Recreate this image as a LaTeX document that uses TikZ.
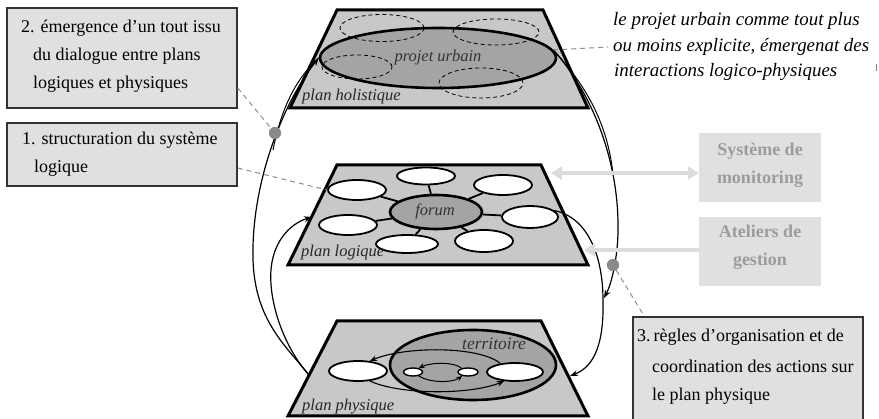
\documentclass[tikz,border=0pt]{standalone}
\usepackage{fontspec}
\setmainfont{Liberation Serif}
\usetikzlibrary{arrows.meta,shapes.geometric}

\definecolor{planefill}{HTML}{C8C8C8}
\definecolor{zonefill}{HTML}{A4A4A4}
\definecolor{boxfill}{HTML}{E0E0E0}
\definecolor{ghost}{HTML}{9C9C9C}
\definecolor{linkgray}{HTML}{DCDCDC}
\definecolor{dotgray}{HTML}{8A8A8A}
\definecolor{dashgray}{HTML}{8C8C8C}

\tikzset{
  plane/.style={fill=planefill, draw=black, line width=3pt, line join=miter},
  zone/.style={ellipse, fill=zonefill, draw=black, line width=2.6pt, inner sep=0pt},
  cell/.style={ellipse, fill=white, draw=black, line width=1.8pt, inner sep=0pt},
  dot cell/.style={ellipse, fill=white, draw=black, line width=1.4pt, inner sep=0pt},
  ghostzone/.style={ellipse, draw=black, line width=0.8pt, inner sep=0pt, dash pattern=on 4pt off 3pt},
  spoke/.style={line width=1.8pt},
  flow/.style={line width=1.2pt, -{Stealth[length=8pt,width=6pt]}},
  thinflow/.style={line width=1pt},
  inner/.style={line width=1.1pt, -{Stealth[length=7pt,width=5.5pt]}},
  small inner/.style={line width=1pt, -{Stealth[length=6pt,width=5pt]}},
  infobox/.style={rectangle, fill=boxfill, draw=black!80, line width=1.4pt, inner sep=0pt},
  toolbox/.style={rectangle, fill=boxfill, inner sep=0pt},
  boxtext/.style={anchor=base west, inner sep=0pt, font=\fontsize{18}{20}\selectfont},
  tooltext/.style={anchor=base, inner sep=0pt, text=ghost, font=\fontsize{18}{20}\selectfont\bfseries},
  planelabel/.style={anchor=base west, inner sep=0pt, text=black!85, font=\fontsize{16.5}{18}\selectfont\itshape},
  zonelabel/.style={anchor=base, inner sep=0pt, text=black!80, font=\fontsize{16.5}{18}\selectfont\itshape},
  note/.style={anchor=base west, inner sep=0pt, font=\fontsize{18.9}{20}\selectfont\itshape},
  leader/.style={draw=dashgray, line width=1pt, dash pattern=on 5pt off 4pt},
  hinge/.style={circle, fill=dotgray, inner sep=0pt, minimum size=12pt},
  toollink/.style={draw=linkgray, line width=4pt},
  tooltip/.tip={Triangle[length=11pt,width=13pt]},
}

\begin{document}
\begin{tikzpicture}[x=1pt,y=-1pt]
\useasboundingbox (0,0) rectangle (879,419);
\clip (0,0) rectangle (879,419);

% ---------- holistic plane ----------
\draw[plane] (337,10) -- (543,10) -- (588,108) -- (290,108) -- cycle;
\node[zone, minimum width=236pt, minimum height=60pt] (urb) at (438,58) {};
\node[ghostzone, minimum width=84pt, minimum height=27pt] (g1) at (382,28) {};
\node[ghostzone, minimum width=86pt, minimum height=26pt] (g2) at (496,32) {};
\node[ghostzone, minimum width=70pt, minimum height=24pt] (g3) at (357,67) {};
\node[ghostzone, minimum width=84pt, minimum height=30pt] (g4) at (481,83) {};

% ---------- logical plane ----------
\draw[plane] (337,165) -- (541,165) -- (588,265) -- (288,265) -- cycle;
\node[zone, minimum width=92pt, minimum height=34pt] (forum) at (436,212) {};
\node[cell, minimum width=58pt, minimum height=17pt] (c1) at (426,176) {};
\node[cell, minimum width=58pt, minimum height=20pt] (c2) at (503,185) {};
\node[cell, minimum width=58pt, minimum height=20pt] (c3) at (357,190) {};
\node[cell, minimum width=56pt, minimum height=22pt] (c4) at (530,217) {};
\node[cell, minimum width=58pt, minimum height=20pt] (c5) at (348,225) {};
\node[cell, minimum width=62pt, minimum height=18pt] (c6) at (407,244) {};
\node[cell, minimum width=58pt, minimum height=22pt] (c7) at (484,241) {};
\foreach \c in {c1,c2,c3,c4,c5,c6,c7}
  \draw[spoke] (forum) -- (\c);

% ---------- physical plane ----------
\draw[plane] (337,321) -- (541,321) -- (588,416) -- (288,416) -- cycle;
\node[zone, minimum width=166pt, minimum height=70pt] (terr) at (473,365) {};
\node[cell, minimum width=58pt, minimum height=20pt] (pL) at (358,371) {};
\node[cell, minimum width=56pt, minimum height=18pt] (pR) at (515,372) {};
\node[dot cell, minimum width=19pt, minimum height=8pt] (sL) at (413,372) {};
\node[dot cell, minimum width=20pt, minimum height=8pt] (sR) at (468,372) {};
\draw[inner] (pR.150) .. controls (480,346) and (405,346) .. (pL.40);
\draw[inner] (pL.-40) .. controls (400,395) and (470,395) .. (pR.-140);
\draw[small inner] (sR.150) .. controls (455,362) and (432,362) .. (sL.35);
\draw[small inner] (sL.-35) .. controls (430,383) and (452,383) .. (sR.-145);

% ---------- loops between the planes ----------
\coordinate (phyL) at (309,375);
\coordinate (logL) at (312,217);
\coordinate (phyR) at (570,376);
\coordinate (join) at (604,298);
\draw[flow] (phyL) .. controls (285,345) and (255,320) .. (253,260)
                   .. controls (251,180) and (285,100) .. (urb.west);
\draw[thinflow] (urb.west) .. controls (297,78) and (282,105) .. (273,150);
\draw[flow] (phyL) .. controls (282,345) and (266,295) .. (272,262)
                   .. controls (277,235) and (295,222) .. (logL);
\draw[flow] (urb.4) .. controls (598,100) and (619,170) .. (618,230)
                    .. controls (618,255) and (612,283) .. (join);
\draw[thinflow] (urb.4) .. controls (592,92) and (608,130) .. (613,174);
\draw[flow] (c4.15) .. controls (590,218) and (603,260) .. (603,300)
                    .. controls (604,340) and (596,366) .. (phyR);

% ---------- tools ----------
\node[toolbox, minimum width=122pt, minimum height=69pt] (mon) at (760,167.5) {};
\node[toolbox, minimum width=122pt, minimum height=69pt] (ate) at (760,251.5) {};
\node[tooltext] (mon1) at (760,156) {Système de};
\node[tooltext] (mon2) at (760,184) {monitoring};
\node[tooltext] (ate1) at (760,238) {Ateliers de};
\node[tooltext] (ate2) at (760,266) {gestion};
\coordinate (monL) at (551,173);
\coordinate (ateL) at (584,250);
\draw[toollink, tooltip-tooltip] (monL) -- (monL -| mon.west);
\draw[toollink, tooltip-] (ateL) -- (ateL -| ate.west);

% ---------- numbered comments ----------
\node[infobox, minimum width=230pt, minimum height=100pt] (box2) at (122,58) {};
\node[boxtext] (box2a) at (21,33) {2. émergence d’un tout issu};
\node[boxtext] (box2b) at (33,61) {du dialogue entre plans};
\node[boxtext] (box2c) at (33,89) {logiques et physiques};

\node[infobox, minimum width=230pt, minimum height=63pt] (box1) at (122,154.5) {};
\node[boxtext] (box1a) at (22,145) {1. structuration du système};
\node[boxtext] (box1b) at (34,173) {logique};

\node[infobox, minimum width=230pt, minimum height=120pt] (box3) at (748,377) {};
\node[boxtext] (box3a) at (637,342) {3.\,règles d’organisation et de};
\node[boxtext] (box3b) at (652,373) {coordination des actions sur};
\node[boxtext] (box3c) at (652,401) {le plan physique};

% ---------- leaders and hinges ----------
\node[hinge] (dotL) at (275,133) {};
\node[hinge] (dotR) at (613,265) {};
\draw[leader] ([yshift=-30pt]box2.east) -- (dotL);
\draw[leader] ([yshift=-13.5pt]box1.east) -- (c3.west);
\draw[leader] (dotR) -- ([xshift=12pt]box3.north west);
\coordinate (noteL) at (608,47);
\draw[leader] (urb.4) -- (noteL);
\node[hinge] (dotLtop) at (dotL) {};
\node[hinge] (dotRtop) at (dotR) {};

% ---------- urban project note ----------
\node[note] (note1) at (613,26) {le projet urbain comme tout plus};
\node[note] (note2) at (613,52) {ou moins explicite, émergenat des};
\node[note] (note3) at (614,77) {interactions logico-physiques};
\draw[draw=gray, line width=1pt] (876,64) -- (876,71);

% ---------- labels ----------
\node[zonelabel] (urbt) at (438,62) {projet urbain};
\node[zonelabel] (forumt) at (435,216) {forum};
\node[zonelabel, font=\fontsize{17.5}{19}\selectfont\itshape] (terrt) at (494,350) {territoire};
\node[planelabel] (holt) at (302,101) {plan holistique};
\node[planelabel] (logt) at (301,257) {plan logique};
\node[planelabel] (phyt) at (302,411) {plan physique};
\end{tikzpicture}
\end{document}
